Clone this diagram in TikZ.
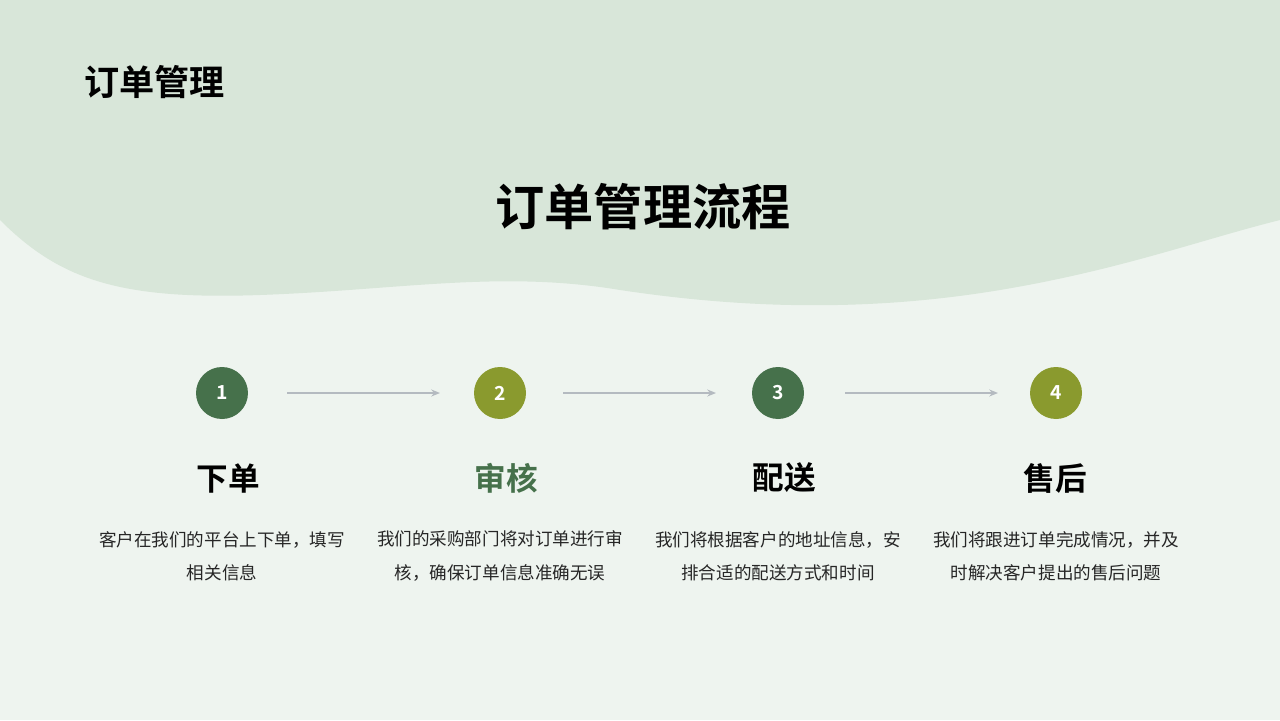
\documentclass[tikz,border=0pt]{standalone}
\usepackage{fontspec}
\setmainfont{Noto Sans CJK SC}[BoldFont={Noto Sans CJK SC Bold}]
\usepackage{tikz}
\usetikzlibrary{arrows.meta}
\definecolor{bglight}{HTML}{EEF4EF}
\definecolor{bgtop}{HTML}{D8E6D9}
\definecolor{darkgreen}{HTML}{46714B}
\definecolor{olive}{HTML}{8A9A2E}
\definecolor{arrowgray}{HTML}{B4BAC0}
\tikzset{
  stepdot/.style={circle, minimum size=1.04cm, inner sep=0pt, text=white, font=\bfseries\fontsize{11pt}{13pt}\selectfont},
  steptitle/.style={font=\bfseries\fontsize{18pt}{22pt}\selectfont},
  stepdesc/.style={text width=5.6cm, align=center, font=\fontsize{10pt}{19pt}\selectfont, text=black!85},
  flowarrow/.style={-{Stealth[length=5pt,width=4pt]}, draw=arrowgray, line width=1pt}
}
\begin{document}
\begin{tikzpicture}[x=0.02cm,y=-0.02cm]

% background
\fill[bglight] (0,0) rectangle (1280,720);
\fill[bgtop] (0,0) -- (0,220) .. controls (60,280) and (120,300) .. (260,295)
  .. controls (400,290) and (500,270) .. (620,290)
  .. controls (720,305) and (850,315) .. (1000,290)
  .. controls (1120,270) and (1200,240) .. (1280,220) -- (1280,0) -- cycle;
\useasboundingbox (0,0) rectangle (1280,720);

% titles
\node[anchor=west, font=\bfseries\fontsize{20pt}{24pt}\selectfont] (head) at (78,82) {订单管理};
\node[font=\bfseries\fontsize{28pt}{34pt}\selectfont] (title) at (643,207) {订单管理流程};

% step circles
\node[stepdot, fill=darkgreen] (s1) at (222,393) {1};
\node[stepdot, fill=olive] (s2) at (500,393) {2};
\node[stepdot, fill=darkgreen] (s3) at (778,393) {3};
\node[stepdot, fill=olive] (s4) at (1056,393) {4};

% arrows
\coordinate (a1) at (287,393); \coordinate (b1) at (440,393);
\coordinate (a2) at (563,393); \coordinate (b2) at (716,393);
\coordinate (a3) at (845,393); \coordinate (b3) at (998,393);
\draw[flowarrow] (a1) -- (b1);
\draw[flowarrow] (a2) -- (b2);
\draw[flowarrow] (a3) -- (b3);

% step titles
\node[steptitle] (t1) at (228,478) {下单};
\node[steptitle, text=darkgreen] (t2) at (506,478) {审核};
\node[steptitle] (t3) at (784,478) {配送};
\node[steptitle] (t4) at (1055,478) {售后};

% descriptions
\node[stepdesc] (d1) at (222,556) {客户在我们的平台上下单，填写\\相关信息};
\node[stepdesc] (d2) at (500,556) {我们的采购部门将对订单进行审\\核，确保订单信息准确无误};
\node[stepdesc] (d3) at (778,556) {我们将根据客户的地址信息，安\\排合适的配送方式和时间};
\node[stepdesc] (d4) at (1056,556) {我们将跟进订单完成情况，并及\\时解决客户提出的售后问题};

\end{tikzpicture}
\end{document}
